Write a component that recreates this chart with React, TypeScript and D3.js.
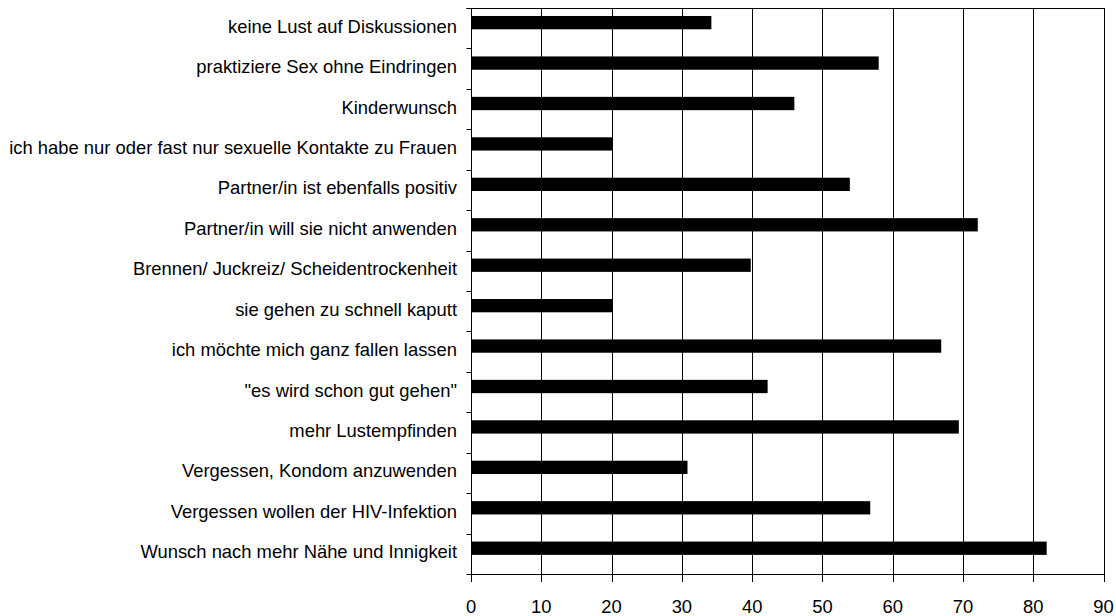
import { useEffect, useRef } from 'react';
import * as d3 from 'd3';

const categories = [
  'keine Lust auf Diskussionen',
  'praktiziere Sex ohne Eindringen',
  'Kinderwunsch',
  'ich habe nur oder fast nur sexuelle Kontakte zu Frauen',
  'Partner/in ist ebenfalls positiv',
  'Partner/in will sie nicht anwenden',
  'Brennen/ Juckreiz/ Scheidentrockenheit',
  'sie gehen zu schnell kaputt',
  'ich möchte mich ganz fallen lassen',
  '"es wird schon gut gehen"',
  'mehr Lustempfinden',
  'Vergessen, Kondom anzuwenden',
  'Vergessen wollen der HIV-Infektion',
  'Wunsch nach mehr Nähe und Innigkeit',
];

const values = [34.2, 58.0, 46.0, 20.2, 53.9, 72.1, 39.8, 20.2, 66.9, 42.2, 69.4, 30.8, 56.8, 81.9];

const xTicks = [0, 10, 20, 30, 40, 50, 60, 70, 80, 90];

const App = () => {
  const svgRef = useRef<SVGSVGElement>(null);

  useEffect(() => {
    const width = 1116;
    const height = 616;
    const left = 471;
    const right = 1103.6;
    const top = 8;
    const bottom = 574;
    const font = "'Liberation Sans', Arial, sans-serif";

    const svg = d3.select(svgRef.current)
      .attr('width', width)
      .attr('height', height);
    svg.selectAll('*').remove();

    const x = d3.scaleLinear().domain([0, 90]).range([left, right]);
    const y = d3.scaleBand().domain(categories).range([top, bottom]).padding(0);
    const px = (v: number) => Math.round(x(v)) + 0.5;

    // gridlines
    svg.append('g')
      .selectAll('line')
      .data(xTicks.slice(1, -1))
      .join('line')
      .attr('x1', d => px(d))
      .attr('x2', d => px(d))
      .attr('y1', top)
      .attr('y2', bottom)
      .attr('stroke', '#000')
      .attr('stroke-width', 1);

    // bars
    svg.append('g')
      .selectAll('rect')
      .data(values)
      .join('rect')
      .attr('x', x(0))
      .attr('y', (d, i) => (y(categories[i]) as number) + 8)
      .attr('width', d => x(d) - x(0))
      .attr('height', 13.3)
      .attr('fill', '#000');

    // frame
    const frame = svg.append('g').attr('stroke', '#000').attr('stroke-width', 1).attr('fill', 'none');
    frame.append('line').attr('x1', px(0) - 5).attr('x2', px(90)).attr('y1', top + 0.5).attr('y2', top + 0.5);
    frame.append('line').attr('x1', px(90)).attr('x2', px(90)).attr('y1', top).attr('y2', bottom + 8);
    frame.append('line').attr('x1', px(0)).attr('x2', px(0)).attr('y1', top).attr('y2', bottom + 8);
    frame.append('line').attr('x1', px(0) - 5).attr('x2', px(90)).attr('y1', bottom + 0.5).attr('y2', bottom + 0.5);

    // bottom ticks
    frame.selectAll('line.xt')
      .data(xTicks)
      .join('line')
      .attr('class', 'xt')
      .attr('x1', d => px(d))
      .attr('x2', d => px(d))
      .attr('y1', bottom)
      .attr('y2', bottom + 8);

    // left ticks at band boundaries
    frame.selectAll('line.yt')
      .data(categories)
      .join('line')
      .attr('class', 'yt')
      .attr('x1', px(0) - 5)
      .attr('x2', px(0))
      .attr('y1', d => Math.round(y(d) as number) + 0.5)
      .attr('y2', d => Math.round(y(d) as number) + 0.5);

    // x labels
    svg.append('g')
      .selectAll('text')
      .data(xTicks)
      .join('text')
      .attr('x', d => x(d))
      .attr('y', 613)
      .attr('text-anchor', 'middle')
      .attr('font-family', font)
      .attr('font-size', 18.4)
      .attr('fill', '#000')
      .text(d => d);

    // category labels
    svg.append('g')
      .selectAll('text')
      .data(categories)
      .join('text')
      .attr('x', 457)
      .attr('y', d => (y(d) as number) + y.bandwidth() / 2 + 4.5)
      .attr('text-anchor', 'end')
      .attr('font-family', font)
      .attr('font-size', 18.4)
      .attr('fill', '#000')
      .text(d => d);
  }, []);

  return <svg ref={svgRef} style={{ position: 'absolute', left: 0, top: 0 }}></svg>;
};

export default App;
